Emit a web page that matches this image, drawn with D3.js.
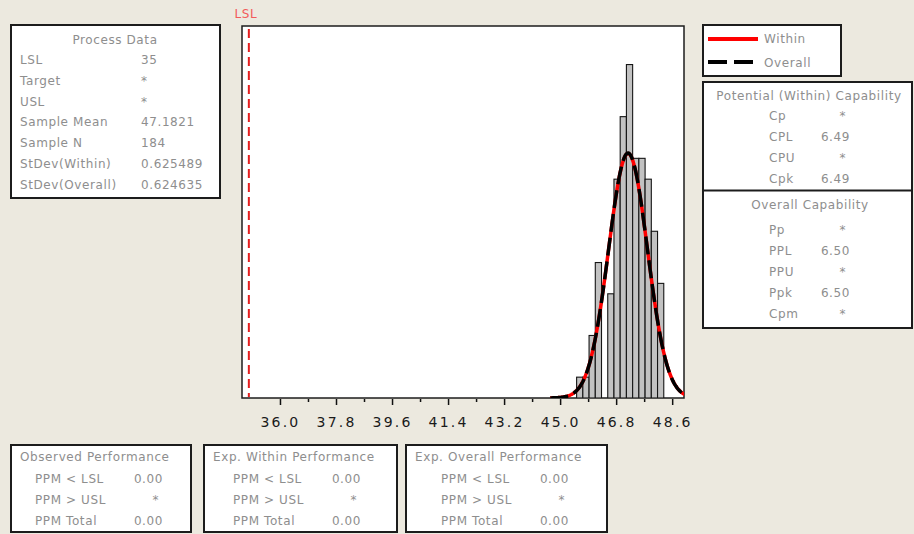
<!DOCTYPE html>
<html><head><meta charset="utf-8">
<script src="https://cdn.jsdelivr.net/npm/d3@7"></script>
<style>
html,body{margin:0;padding:0;background:#ECE9DF;overflow:hidden;}
svg{display:block;}
text{font-family:"DejaVu Sans",Verdana,sans-serif;}
</style></head><body>
<svg id="c" width="914" height="534"></svg>
<script>
// ---------- data ----------
const LSL = 35;
const sampleMean = 47.1821;
const sampleN = 184;
const sdWithin = 0.625489;
const sdOverall = 0.624635;
const binWidth = 0.2;
const binEdges = [45.53,45.73,45.93,46.13,46.33,46.53,46.73,46.93,47.13,47.33,47.53,47.73,47.93,48.13,48.33];
const binCounts = [2,2,6,13,0,10,21,27,32,23,23,21,16,11];
const majorTicks = [36.0,37.8,39.6,41.4,43.2,45.0,46.8,48.6];
const minorTicks = [36.9,38.7,40.5,42.3,44.1,45.9,47.7];
const xDomain = [34.78, 48.98];
const yDomain = [0, 35.7];
const processTitle = "Process Data";
const processLabels = ["LSL","Target","USL","Sample Mean","Sample N","StDev(Within)","StDev(Overall)"];
const processValues = ["35","*","*","47.1821","184","0.625489","0.624635"];
const legendLabels = ["Within","Overall"];
const withinTitle = "Potential (Within) Capability";
const withinLabels = ["Cp","CPL","CPU","Cpk"];
const withinValues = ["*","6.49","*","6.49"];
const overallTitle = "Overall Capability";
const overallLabels = ["Pp","PPL","PPU","Ppk","Cpm"];
const overallValues = ["*","6.50","*","6.50","*"];
const perfTitles = ["Observed Performance","Exp. Within Performance","Exp. Overall Performance"];
const perfLabels = ["PPM < LSL","PPM > USL","PPM Total"];
const perfValues = [["0.00","*","0.00"],["0.00","*","0.00"],["0.00","*","0.00"]];

// ---------- layout ----------
const plot = {l:242, r:684, t:26, b:398};
const grayText = "#8e8e8e";
const boxStroke = "#1c1c1c";
const svg = d3.select("#c");

const x = d3.scaleLinear().domain(xDomain).range([plot.l, plot.r]);
const y = d3.scaleLinear().domain(yDomain).range([plot.b, plot.t]);

// plot frame
svg.append("rect").attr("x",plot.l).attr("y",plot.t)
  .attr("width",plot.r-plot.l).attr("height",plot.b-plot.t)
  .attr("fill","#fff").attr("stroke",boxStroke).attr("stroke-width",1.5);

svg.append("clipPath").attr("id","pc").append("rect")
  .attr("x",plot.l).attr("y",plot.t).attr("width",plot.r-plot.l).attr("height",plot.b-plot.t);

const g = svg.append("g").attr("clip-path","url(#pc)");

// histogram bars
const bins = binCounts.map((c,i)=>({x0:binEdges[i], x1:binEdges[i+1], c}));
g.selectAll("rect.bar").data(bins.filter(d=>d.c>0)).join("rect")
  .attr("class","bar")
  .attr("x",d=>x(d.x0)).attr("width",d=>x(d.x1)-x(d.x0))
  .attr("y",d=>y(d.c)).attr("height",d=>y(0)-y(d.c))
  .attr("fill","#C2C2C2").attr("stroke","#151515").attr("stroke-width",1.1);

// fitted normal curves
function curve(sd){
  const pts=[];
  for(let v=sampleMean-4*sd; v<=xDomain[1]+0.05; v+=0.02){
    const dens = Math.exp(-0.5*Math.pow((v-sampleMean)/sd,2))/(sd*Math.sqrt(2*Math.PI));
    pts.push([v, sampleN*binWidth*dens]);
  }
  return pts;
}
const line = d3.line().x(d=>x(d[0])).y(d=>y(d[1]));
g.append("path").attr("d",line(curve(sdWithin))).attr("fill","none")
  .attr("stroke","#ff0000").attr("stroke-width",3.5);
g.append("path").attr("d",line(curve(sdOverall))).attr("fill","none")
  .attr("stroke","#000").attr("stroke-width",3.5).attr("stroke-dasharray","18,6");

// LSL line
svg.append("line").attr("x1",x(LSL)).attr("x2",x(LSL)).attr("y1",plot.t+3).attr("y2",plot.b-1)
  .attr("stroke","#e41e1e").attr("stroke-width",2).attr("stroke-dasharray","9,5");
svg.append("text").attr("x",x(LSL)-3).attr("y",18).attr("text-anchor","middle")
  .attr("font-size",12).attr("letter-spacing",0.5).attr("fill","#f25a5a").text("LSL");

// x axis
const axMajor = svg.append("g").attr("transform",`translate(0,${plot.b+1})`)
  .call(d3.axisBottom(x).tickValues(majorTicks).tickSize(6).tickFormat(d3.format(".1f")));
axMajor.select(".domain").remove();
axMajor.selectAll(".tick line").attr("stroke","#111").attr("stroke-width",1.5);
axMajor.selectAll(".tick text").attr("y",18).attr("font-size",14)
  .attr("letter-spacing",2.2).attr("fill","#1a1a1a")
  .attr("font-family","'DejaVu Sans',Verdana,sans-serif");
const axMinor = svg.append("g").attr("transform",`translate(0,${plot.b+1})`)
  .call(d3.axisBottom(x).tickValues(minorTicks).tickSize(3).tickFormat(""));
axMinor.select(".domain").remove();
axMinor.selectAll(".tick line").attr("stroke","#111").attr("stroke-width",1.5);

function box(x0,y0,w,h){
  svg.append("rect").attr("x",x0).attr("y",y0).attr("width",w).attr("height",h)
    .attr("fill","#fff").attr("stroke",boxStroke).attr("stroke-width",2);
}
function txt(xp,yp,s,anchor){
  return svg.append("text").attr("x",xp).attr("y",yp).attr("text-anchor",anchor||"start")
    .attr("font-size",12).attr("letter-spacing",0.6).attr("fill",grayText).text(s);
}
function val(xEnd,yp,s){
  if(s==="*") return txt(xEnd-4,yp,s,"end");
  return txt(xEnd,yp,s,"end");
}

// Process Data box
box(11,25,209,173);
txt(115,43.5,processTitle,"middle");
processLabels.forEach((s,i)=>{
  const yy = 64 + i*20.8;
  txt(20,yy,s);
  txt(141,yy,processValues[i]);
});

// legend
box(703,25,138,51);
svg.append("line").attr("x1",708).attr("x2",758).attr("y1",39).attr("y2",39)
  .attr("stroke","#ff0000").attr("stroke-width",4);
svg.append("line").attr("x1",708).attr("x2",753).attr("y1",62).attr("y2",62)
  .attr("stroke","#000").attr("stroke-width",4).attr("stroke-dasharray","19,7");
txt(764,43,legendLabels[0]);
txt(764,66.5,legendLabels[1]);

// capability box
box(703,82,209,246);
svg.append("line").attr("x1",703).attr("x2",912).attr("y1",190.5).attr("y2",190.5)
  .attr("stroke",boxStroke).attr("stroke-width",2);
txt(809,99.5,withinTitle,"middle");
withinLabels.forEach((s,i)=>{
  const yy = 119.5 + i*21;
  txt(769,yy,s);
  val(850,yy,withinValues[i]);
});
txt(810,208.5,overallTitle,"middle");
overallLabels.forEach((s,i)=>{
  const yy = 233.5 + i*21;
  txt(769,yy,s);
  val(850,yy,overallValues[i]);
});

// performance boxes
const perfBoxes = [
  {x:11, w:180, lx:35, vx:163},
  {x:204, w:193, lx:233, vx:361},
  {x:406, w:201, lx:441, vx:569}
];
perfBoxes.forEach((b,k)=>{
  box(b.x,445,b.w,87);
  txt(b.x+9,460.5,perfTitles[k]);
  perfLabels.forEach((s,i)=>{
    const yy = 482.5 + i*21;
    txt(b.lx,yy,s);
    val(b.vx,yy,perfValues[k][i]);
  });
});
</script>
</body></html>
